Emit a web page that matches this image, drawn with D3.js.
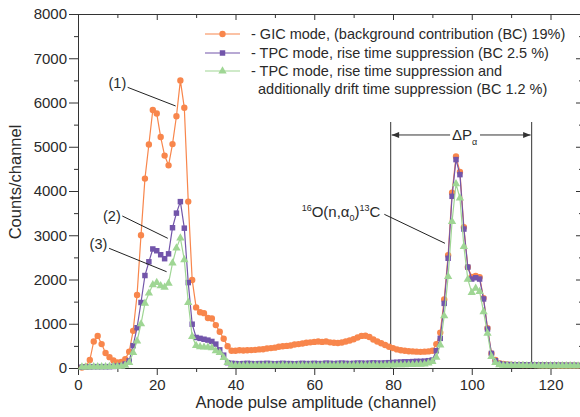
<!DOCTYPE html>
<html>
<head>
<meta charset="utf-8">
<script src="https://cdn.jsdelivr.net/npm/d3@7"></script>
<style>
  body { margin: 0; background: #fff; }
  svg { font-family: "Liberation Sans", Arial, sans-serif; }
  .axis path, .axis line { stroke: #333; }
  .axis text { fill: #2a2a2a; font-size: 15px; }
</style>
</head>
<body>
<svg id="chart" width="580" height="417"></svg>
<script>
// counts per channel, first value is channel 1
var firstChannel = 1;

var gicCounts = [
  10, 30, 180, 600, 725, 540, 340, 245, 170, 125,
  135, 200, 370, 840, 1650, 3000, 4280, 5050, 5830, 5750,
  5220, 4800, 4580, 5060, 5690, 6500, 5880, 3760, 1990, 1370,
  1260, 1240, 1130, 1120, 970, 820, 660, 490, 390, 390,
  400, 395, 400, 405, 410, 420, 425, 440, 450, 460,
  480, 490, 500, 510, 530, 540, 555, 570, 580, 590,
  600, 590, 600, 580, 570, 565, 575, 600, 620, 650,
  690, 725, 730, 700, 645, 600, 560, 520, 480, 450,
  420, 400, 390, 380, 375, 370, 365, 370, 375, 390,
  540, 800, 1550, 2550, 3960, 4780, 4430, 3180, 2280, 2060,
  2080, 2050, 1580, 900, 330, 180, 110, 90, 80, 75,
  70, 70, 68, 66, 65, 65, 64, 62, 62, 60,
  60, 58, 58, 56, 55, 55, 54
];

var tpcCounts = [
  20, 25, 25, 30, 30, 30, 30, 30, 35, 40,
  55, 90, 160, 505, 910, 1480, 2090, 2400, 2690, 2650,
  2560, 2470, 2580, 3170, 3500, 3760, 3160, 1930, 990, 690,
  670, 650, 630, 600, 540, 410, 290, 120, 105, 100,
  95, 100, 105, 100, 95, 100, 100, 105, 100, 95,
  100, 105, 100, 100, 95, 100, 105, 100, 100, 105,
  100, 100, 110, 105, 100, 105, 110, 105, 100, 105,
  110, 110, 105, 110, 115, 110, 110, 115, 120, 125,
  130, 135, 140, 140, 145, 150, 150, 155, 165, 180,
  390, 670, 1460, 2480, 3880, 4710, 4370, 3140, 2280, 2010,
  2040, 2010, 1560, 880, 330, 165, 100, 80, 78, 75,
  72, 72, 70, 70, 68, 68, 66, 66, 65, 64,
  64, 62, 62, 60, 60, 60, 58
];

var tpcDriftCounts = [
  20, 20, 25, 25, 25, 25, 25, 30, 30, 35,
  40, 60, 120, 346, 610, 995, 1460, 1690, 1880, 1930,
  1855, 1825, 1915, 2370, 2710, 2935, 2445, 1480, 710, 505,
  480, 470, 470, 455, 385, 346, 233, 120, 60, 55,
  55, 58, 55, 55, 60, 55, 55, 58, 60, 55,
  55, 60, 58, 55, 55, 60, 58, 55, 60, 58,
  55, 60, 58, 60, 55, 60, 60, 58, 60, 62,
  60, 62, 60, 62, 65, 62, 62, 65, 65, 68,
  70, 70, 72, 75, 78, 80, 85, 90, 110, 143,
  242, 520, 1176, 2066, 3310, 4163, 3839, 2745, 2006, 1704,
  1802, 1727, 1270, 785, 256, 120, 70, 58, 56, 55,
  55, 54, 54, 52, 52, 52, 50, 50, 50, 50,
  50, 48, 48, 48, 48, 48, 46
];

var xTicks = [0, 20, 40, 60, 80, 100, 120];
var xMinorTicks = [10, 30, 50, 70, 90, 110];
var yTicks = [0, 1000, 2000, 3000, 4000, 5000, 6000, 7000, 8000];
var yMinorTicks = [500, 1500, 2500, 3500, 4500, 5500, 6500, 7500];

var legendLabels = [
  ["- GIC mode, (background contribution (BC) 19%)"],
  ["- TPC mode, rise time suppression (BC 2.5 %)"],
  ["- TPC mode, rise time suppression and", "additionally drift time suppression (BC 1.2 %)"]
];

// window of alpha peak (channels)
var windowChannels = [79.4, 115.2];

var svg = d3.select("svg"),
    margin = {top: 14, right: -2, bottom: 49, left: 78},
    width = +svg.attr("width") - margin.left - margin.right,
    height = +svg.attr("height") - margin.top - margin.bottom;

var x = d3.scaleLinear().domain([0, 128]).range([0, width]),
    y = d3.scaleLinear().domain([0, 8000]).range([height, 0]);

var g = svg.append("g")
    .attr("transform", "translate(" + margin.left + "," + margin.top + ")");

var series = [
  {name: "gic", values: gicCounts, color: "#f8864c", symbol: d3.symbolCircle, size: 32},
  {name: "tpc", values: tpcCounts, color: "#7255aa", symbol: d3.symbolSquare, size: 30},
  {name: "drift", values: tpcDriftCounts, color: "#9fd694", symbol: d3.symbolTriangle, size: 30}
];

// axes: labelled bottom/left, ticks only on top/right
g.append("g").attr("class", "axis")
    .attr("transform", "translate(0," + height + ")")
    .call(d3.axisBottom(x).tickValues(xTicks).tickSize(7).tickPadding(4).tickSizeOuter(0));
g.append("g").attr("class", "axis")
    .attr("transform", "translate(0," + height + ")")
    .call(d3.axisBottom(x).tickValues(xMinorTicks).tickSize(4).tickFormat("").tickSizeOuter(0));
g.append("g").attr("class", "axis")
    .call(d3.axisLeft(y).tickValues(yTicks).tickFormat(d3.format("d")).tickSize(9).tickPadding(2).tickSizeOuter(0));
g.append("g").attr("class", "axis")
    .call(d3.axisLeft(y).tickValues(yMinorTicks).tickSize(4).tickFormat("").tickSizeOuter(0));
g.append("g").attr("class", "axis")
    .call(d3.axisBottom(x).tickValues(xTicks).tickSize(6).tickFormat("").tickSizeOuter(0));
g.append("g").attr("class", "axis")
    .call(d3.axisBottom(x).tickValues(xMinorTicks).tickSize(4).tickFormat("").tickSizeOuter(0));
g.append("g").attr("class", "axis")
    .attr("transform", "translate(" + width + ",0)")
    .call(d3.axisLeft(y).tickValues(yTicks).tickSize(6).tickFormat("").tickSizeOuter(0));
g.append("g").attr("class", "axis")
    .attr("transform", "translate(" + width + ",0)")
    .call(d3.axisLeft(y).tickValues(yMinorTicks).tickSize(3).tickFormat("").tickSizeOuter(0));

svg.append("text")
    .attr("x", 316).attr("y", 408)
    .attr("text-anchor", "middle")
    .style("font-size", "16.5px").style("fill", "#2a2a2a")
    .text("Anode pulse amplitude (channel)");

svg.append("text")
    .attr("transform", "translate(21,182) rotate(-90)")
    .attr("text-anchor", "middle")
    .style("font-size", "16.5px").style("fill", "#2a2a2a")
    .text("Counts/channel");

// window lines and arrow
svg.append("defs").selectAll("marker")
    .data(["arrowL", "arrowR"])
    .enter().append("marker")
    .attr("id", function(d) { return d; })
    .attr("viewBox", "0 -4 10 8")
    .attr("refX", 10).attr("refY", 0)
    .attr("markerWidth", 9).attr("markerHeight", 6)
    .attr("markerUnits", "userSpaceOnUse")
    .attr("orient", "auto")
    .append("path").attr("d", "M0,-4L10,0L0,4Z").attr("fill", "#333");

g.selectAll(".window")
    .data(windowChannels)
    .enter().append("line")
    .attr("class", "window")
    .attr("x1", function(d) { return x(d); }).attr("x2", function(d) { return x(d); })
    .attr("y1", y(5560)).attr("y2", y(0))
    .attr("stroke", "#555").attr("stroke-width", 1.2);

g.append("line")
    .attr("x1", x(94.5)).attr("x2", x(windowChannels[0]) + 1)
    .attr("y1", y(5266)).attr("y2", y(5266))
    .attr("stroke", "#333").attr("stroke-width", 1)
    .attr("marker-end", "url(#arrowL)");
g.append("line")
    .attr("x1", x(102.1)).attr("x2", x(windowChannels[1]) - 1)
    .attr("y1", y(5266)).attr("y2", y(5266))
    .attr("stroke", "#333").attr("stroke-width", 1)
    .attr("marker-end", "url(#arrowR)");

var dp = g.append("text")
    .attr("x", x(98.2)).attr("y", y(5160))
    .attr("text-anchor", "middle")
    .style("font-size", "15px").style("fill", "#2a2a2a");
dp.append("tspan").text("\u0394P");
dp.append("tspan").attr("dy", 5).style("font-size", "9px").text("\u03b1");

// data lines and markers
var line = d3.line()
    .x(function(d, i) { return x(i + firstChannel); })
    .y(function(d) { return y(d); });

series.forEach(function(s) {
  g.append("path")
      .datum(s.values)
      .attr("fill", "none")
      .attr("stroke", s.color)
      .attr("stroke-width", 1.2)
      .attr("d", line);

  g.selectAll(".pt-" + s.name)
      .data(s.values)
      .enter().append("path")
      .attr("class", "pt-" + s.name)
      .attr("d", d3.symbol().type(s.symbol).size(s.size))
      .attr("fill", s.color)
      .attr("transform", function(d, i) {
        return "translate(" + x(i + firstChannel) + "," + y(d) + ")";
      });
});

// annotations: text position and leader line in data units
var notes = [
  {text: "(1)", at: [10.0, 6328], from: [12.6, 6343], to: [24.8, 5921]},
  {text: "(2)", at: [8.6, 3333], from: [11.25, 3435], to: [22.8, 2931]},
  {text: "(3)", at: [5.2, 2678], from: [7.9, 2705], to: [22.5, 2176]}
];

notes.forEach(function(n) {
  g.append("text")
      .attr("x", x(n.at[0])).attr("y", y(n.at[1]))
      .attr("text-anchor", "middle")
      .style("font-size", "14.5px").style("fill", "#2a2a2a")
      .text(n.text);
  g.append("line")
      .attr("x1", x(n.from[0])).attr("y1", y(n.from[1]))
      .attr("x2", x(n.to[0])).attr("y2", y(n.to[1]))
      .attr("stroke", "#222").attr("stroke-width", 1);
});

var react = g.append("text")
    .attr("x", x(76.8)).attr("y", y(3412))
    .attr("text-anchor", "end")
    .style("font-size", "15px").style("fill", "#2a2a2a");
react.append("tspan").attr("dy", -6).style("font-size", "9px").text("16");
react.append("tspan").attr("dy", 6).text("O(n,\u03b1");
react.append("tspan").attr("dy", 4).style("font-size", "9px").text("0");
react.append("tspan").attr("dy", -4).text(")");
react.append("tspan").attr("dy", -6).style("font-size", "9px").text("13");
react.append("tspan").attr("dy", 6).text("C");

g.append("line")
    .attr("x1", x(77.8)).attr("y1", y(3473))
    .attr("x2", x(93.2)).attr("y2", y(2818))
    .attr("stroke", "#222").attr("stroke-width", 1);

// legend
var legend = svg.append("g");
var rowY = [34, 53, 71];

series.forEach(function(s, i) {
  legend.append("line")
      .attr("x1", 205).attr("x2", 240)
      .attr("y1", rowY[i]).attr("y2", rowY[i])
      .attr("stroke", s.color).attr("stroke-width", 1.2);
  legend.append("path")
      .attr("d", d3.symbol().type(s.symbol).size(s.size))
      .attr("fill", s.color)
      .attr("transform", "translate(222.5," + rowY[i] + ")");
  legendLabels[i].forEach(function(t, j) {
    legend.append("text")
        .attr("x", j == 0 ? 251 : 258)
        .attr("y", rowY[i] + 5 + j * 18)
        .style("font-size", "14.5px").style("fill", "#2a2a2a")
        .text(t);
  });
});
</script>
</body>
</html>
